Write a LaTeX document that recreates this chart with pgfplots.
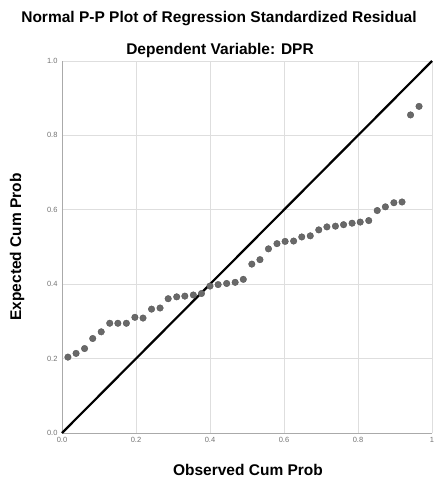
\documentclass[border=0pt]{standalone}
\usepackage{fontspec}
\setmainfont{Liberation Sans}
\usepackage{pgfplots}
\pgfplotsset{compat=1.18}

\definecolor{gridgray}{RGB}{222,222,222}
\definecolor{axisgray}{RGB}{170,170,170}
\definecolor{dotfill}{RGB}{105,105,105}
\definecolor{dotedge}{RGB}{80,80,80}
\definecolor{ticktext}{RGB}{115,115,115}

\begin{document}
\begin{tikzpicture}
\useasboundingbox (-62pt,-49pt) rectangle (372pt,433pt);
\begin{axis}[
  at={(0,0)}, anchor=south west,
  scale only axis,
  width=370pt, height=372pt,
  xmin=0, xmax=1, ymin=0, ymax=1,
  axis lines*=left,
  axis line style={axisgray, line width=0.8pt},
  xtick={0,0.2,0.4,0.6,0.8,1},
  xticklabels={0.0,0.2,0.4,0.6,0.8,1},
  ytick={0,0.2,0.4,0.6,0.8,1},
  yticklabels={0.0,0.2,0.4,0.6,0.8,1.0},
  tick style={draw=none},
  tick label style={font=\fontsize{7.5}{9}\selectfont, text=ticktext},
  /pgf/number format/assume math mode=true,
  xticklabel style={yshift=-1pt},
  yticklabel style={xshift=-1pt},
  grid=major,
  major grid style={gridgray, line width=0.9pt},
  clip=false,
]
\addplot[black, line width=2.2pt] coordinates {(0,0) (1,1)};
\addplot[only marks, mark=*, mark size=3.3pt,
  mark options={fill=dotfill, draw=dotedge, line width=0.3pt}] coordinates {
  (0.016,0.204) (0.038,0.214) (0.061,0.227) (0.083,0.254) (0.106,0.272)
  (0.129,0.295) (0.151,0.295) (0.174,0.295) (0.197,0.311) (0.219,0.309)
  (0.242,0.333) (0.265,0.336) (0.287,0.361) (0.310,0.366) (0.332,0.368)
  (0.355,0.371) (0.377,0.375) (0.400,0.395) (0.422,0.399) (0.445,0.402)
  (0.468,0.405) (0.490,0.413) (0.513,0.454) (0.535,0.466) (0.558,0.495)
  (0.581,0.509) (0.603,0.515) (0.626,0.516) (0.648,0.527) (0.671,0.530)
  (0.694,0.546) (0.716,0.554) (0.739,0.556) (0.761,0.560) (0.784,0.564)
  (0.806,0.567) (0.829,0.571) (0.852,0.598) (0.874,0.608) (0.897,0.619)
  (0.919,0.621) (0.942,0.855) (0.965,0.878)
};
\end{axis}
\node[font=\bfseries\fontsize{15.5}{18}\selectfont] at (157pt,414pt) {Normal P-P Plot of Regression Standardized Residual};
\node[font=\bfseries\fontsize{15.5}{18}\selectfont] at (158pt,383pt) {Dependent Variable: DPR};
\node[font=\bfseries\fontsize{15.5}{18}\selectfont, rotate=90] at (-45pt,186pt) {Expected Cum Prob};
\node[font=\bfseries\fontsize{15.5}{18}\selectfont] at (186pt,-37pt) {Observed Cum Prob};
\end{tikzpicture}
\end{document}
